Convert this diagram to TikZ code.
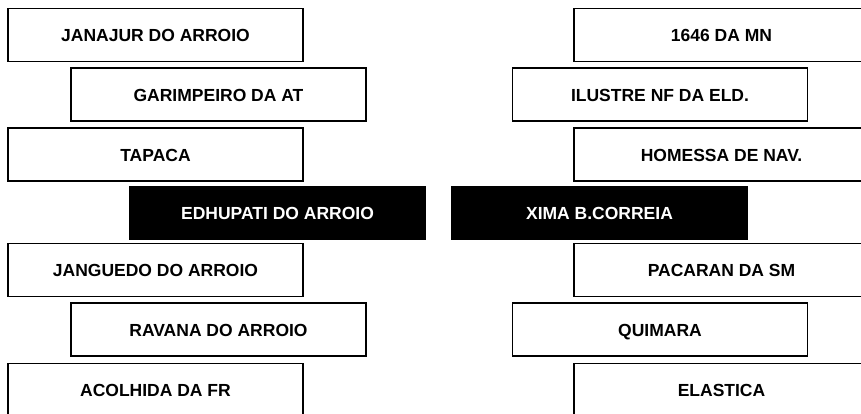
\documentclass[tikz,border=0pt]{standalone}
\usepackage{fontspec}
\setmainfont{Liberation Sans}
\usepackage{tikz}
\tikzset{
	% ---- default
	every node/.style={font=\fontsize{17.5}{20}\selectfont\bfseries},
	every picture/.style={x=1pt, y=-1pt},
	% ---- custom
	name box/.style={draw=black, line width=1.3pt, fill=white, minimum width=295pt, minimum height=53pt, inner sep=0pt, text height=13pt, text depth=0pt},
	dark box/.style={name box, fill=black, text=white},
}

\begin{document}
\begin{tikzpicture}

% frame %{{{2

	\useasboundingbox (0,0) rectangle (861,413);
	\clip (0,0) rectangle (861,413);

% coordinates %{{{2

	\coordinate (L1) at (155.5,35);
	\coordinate (L2) at (218.5,94.5);
	\coordinate (L3) at (155.5,154.5);
	\coordinate (L4) at (277.5,213);
	\coordinate (L5) at (155.5,270);
	\coordinate (L6) at (218.5,329.5);
	\coordinate (L7) at (155.5,390);

	\coordinate (R1) at (721.5,35);
	\coordinate (R2) at (660,94.5);
	\coordinate (R3) at (721.5,154.5);
	\coordinate (R4) at (599.5,213);
	\coordinate (R5) at (721.5,270);
	\coordinate (R6) at (660,329.5);
	\coordinate (R7) at (721.5,390);

% left boxes %{{{2

	\node[name box] (janajur) at (L1) {JANAJUR DO ARROIO};
	\node[name box] (garimpeiro) at (L2) {GARIMPEIRO DA AT};
	\node[name box] (tapaca) at (L3) {TAPACA};
	\node[dark box] (edhupati) at (L4) {EDHUPATI DO ARROIO};
	\node[name box] (janguedo) at (L5) {JANGUEDO DO ARROIO};
	\node[name box] (ravana) at (L6) {RAVANA DO ARROIO};
	\node[name box] (acolhida) at (L7) {ACOLHIDA DA FR};

% right boxes %{{{2

	\node[name box] (mn) at (R1) {1646 DA MN};
	\node[name box] (ilustre) at (R2) {ILUSTRE NF DA ELD.};
	\node[name box] (homessa) at (R3) {HOMESSA DE NAV.};
	\node[dark box] (xima) at (R4) {XIMA B.CORREIA};
	\node[name box] (pacaran) at (R5) {PACARAN DA SM};
	\node[name box] (quimara) at (R6) {QUIMARA};
	\node[name box] (elastica) at (R7) {ELASTICA};

% closing %{{{2

\end{tikzpicture}
\end{document}
